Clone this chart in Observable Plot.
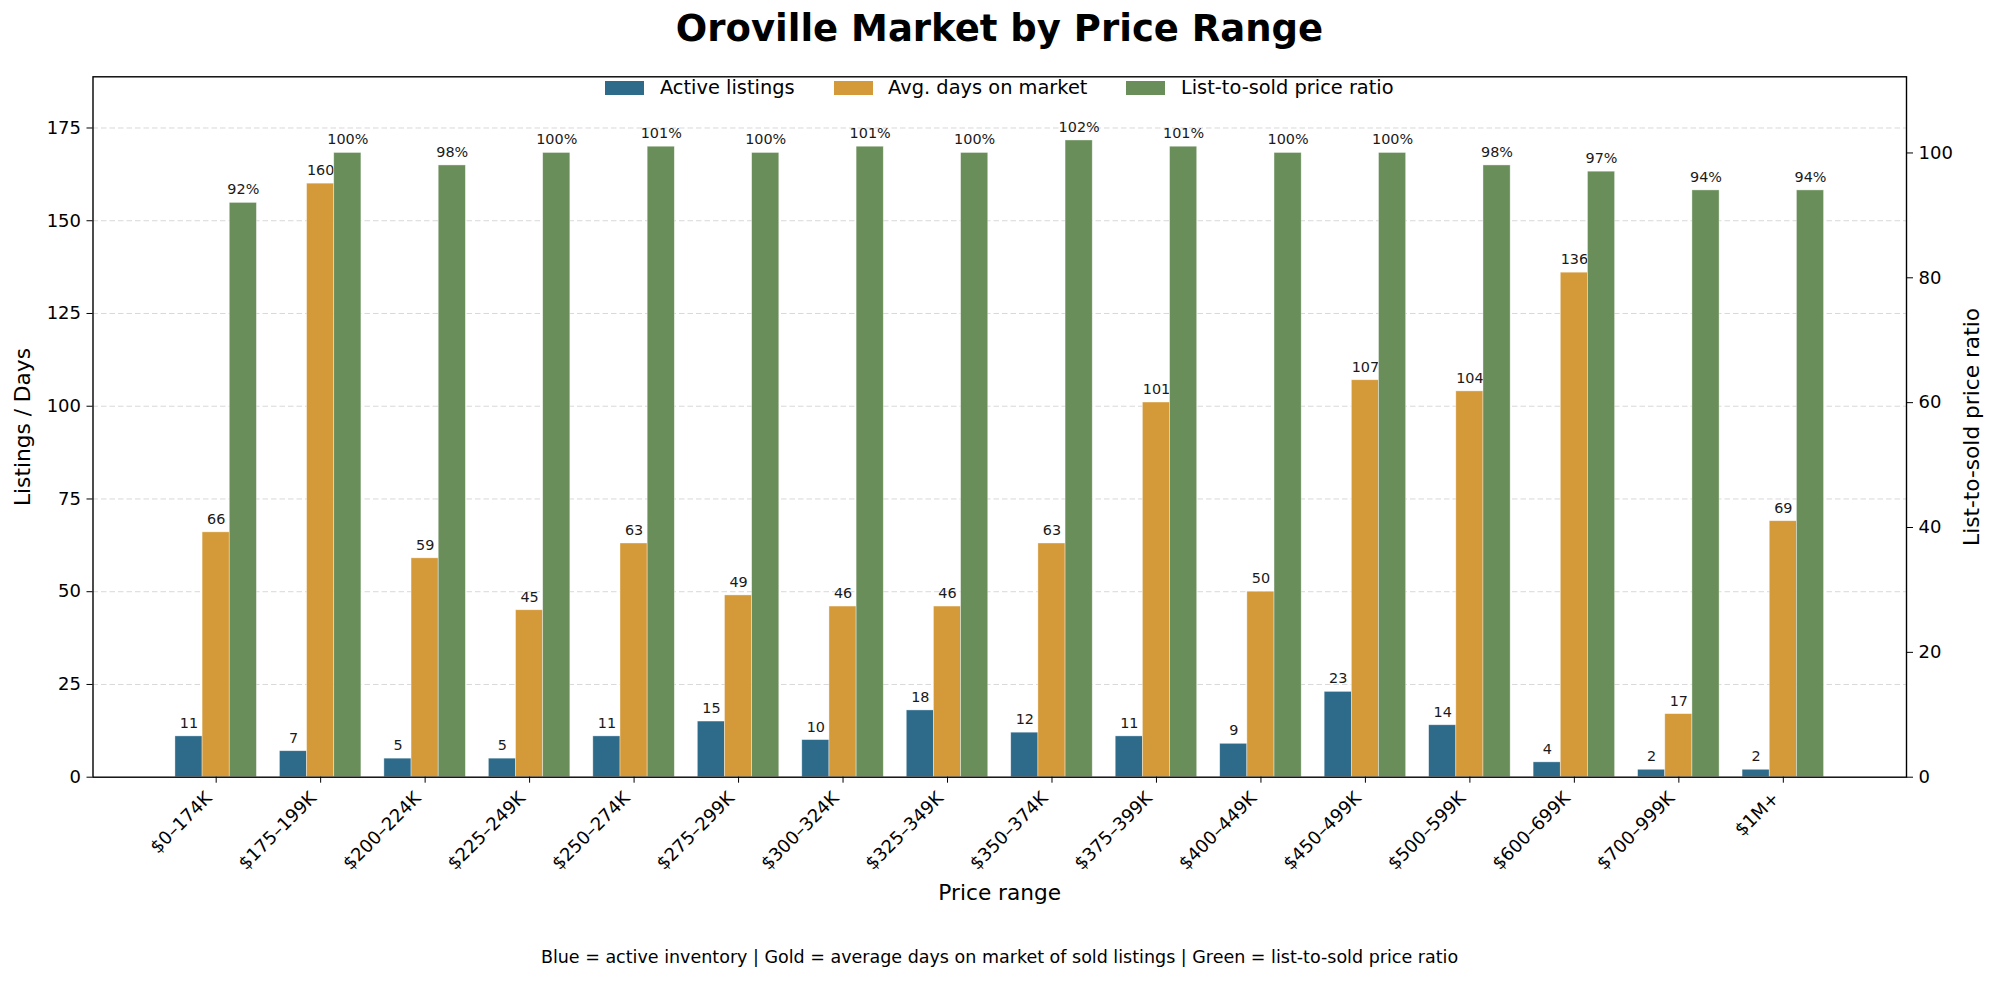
<!DOCTYPE html>
<html>
<head>
<meta charset="utf-8">
<script src="https://cdn.jsdelivr.net/npm/d3@7"></script>
<script src="https://cdn.jsdelivr.net/npm/@observablehq/plot@0.6"></script>
<style>
html, body { margin: 0; padding: 0; background: #fff; }
#wrap { position: relative; width: 1999px; height: 981px; overflow: hidden; font-family: "DejaVu Sans", sans-serif; color: #000; }
#wrap svg { position: absolute; left: 0; top: 0; }
.title { position: absolute; left: 0; width: 1999px; top: 10px; text-align: center; font-weight: bold; font-size: 37px; line-height: 37px; }
.legend { position: absolute; left: 0; width: 1999px; top: 77px; height: 22px; display: flex; justify-content: center; align-items: center; font-size: 19.4px; line-height: 22px; }
.legend .item { display: flex; align-items: center; margin: 0 19.5px; }
.legend .sw { width: 39px; height: 13.5px; margin-right: 15.5px; }
.caption { position: absolute; left: 0; width: 1999px; top: 947.5px; text-align: center; font-size: 17.5px; line-height: 18px; }
</style>
</head>
<body>
<div id="wrap"></div>
<script>
// ---- data ----
const categories = ["$0–174K", "$175–199K", "$200–224K", "$225–249K", "$250–274K", "$275–299K", "$300–324K", "$325–349K", "$350–374K", "$375–399K", "$400–449K", "$450–499K", "$500–599K", "$600–699K", "$700–999K", "$1M+"];
const activeListings = [11, 7, 5, 5, 11, 15, 10, 18, 12, 11, 9, 23, 14, 4, 2, 2];
const avgDaysOnMarket = [66, 160, 59, 45, 63, 49, 46, 46, 63, 101, 50, 107, 104, 136, 17, 69];
const listToSoldRatio = [92, 100, 98, 100, 101, 100, 101, 100, 102, 101, 100, 100, 98, 97, 94, 94];
const seriesNames = ["Active listings", "Avg. days on market", "List-to-sold price ratio"];
const leftTicks = [0, 25, 50, 75, 100, 125, 150, 175];
const rightTicks = [0, 20, 40, 60, 80, 100];
const titleText = "Oroville Market by Price Range";
const xLabel = "Price range";
const yLabelLeft = "Listings / Days";
const yLabelRight = "List-to-sold price ratio";
const captionText = "Blue = active inventory | Gold = average days on market of sold listings | Green = list-to-sold price ratio";

// ---- styling / layout ----
const colors = ["#2e6a8a", "#d49a3a", "#6a8e5a"];
const W = 1999, H = 981;
const mL = 92.5, mR = 93, mT = 76.3, mB = 204.3;
const barW = 0.26;
const xDomain = [-1.179, 16.179];
const font = '"DejaVu Sans", sans-serif';

const rows = (values) => categories.map((c, i) => ({i, category: c, value: values[i]}));
const activeRows = rows(activeListings);
const daysRows = rows(avgDaysOnMarket);
const ratioRows = rows(listToSoldRatio);
const catIndex = categories.map((c, i) => i);

const barOpts = (k, fill) => ({
  x1: d => d.i + (k - 1) * barW - barW / 2,
  x2: d => d.i + (k - 1) * barW + barW / 2,
  y1: 0, y2: "value", fill,
  stroke: "#ffffff", strokeWidth: 0.7, strokeOpacity: 0.55
});
const labelOpts = (k, fmt) => ({
  x: d => d.i + (k - 1) * barW, y: "value", text: fmt,
  textAnchor: "middle", lineAnchor: "bottom", dy: -8.6, fontSize: 14.4, fill: "#1a1a1a"
});

const common = {
  width: W, height: H, marginLeft: mL, marginRight: mR, marginTop: mT, marginBottom: mB,
  style: {fontFamily: font, background: "transparent", color: "#000", overflow: "visible"}
};

const plotA = Plot.plot({
  ...common,
  x: {domain: xDomain},
  y: {domain: [0, 188.8]},
  marks: [
    Plot.gridY(leftTicks.slice(1), {stroke: "#d8d8d8", strokeOpacity: 1, strokeWidth: 1, strokeDasharray: "5.5,3"}),
    Plot.rect(activeRows, barOpts(0, colors[0])),
    Plot.rect(daysRows, barOpts(1, colors[1])),
    Plot.text(activeRows, labelOpts(0, d => String(d.value))),
    Plot.text(daysRows, labelOpts(1, d => String(d.value))),
    Plot.axisY({ticks: leftTicks, tickSize: 6, tickPadding: 6, fontSize: 18, label: null}),
    Plot.axisX({ticks: catIndex, tickSize: 6, tickFormat: () => "", label: null}),
    Plot.text(catIndex, {x: i => i, text: i => categories[i], frameAnchor: "bottom", rotate: -45,
      textAnchor: "end", lineAnchor: "top", dx: -12.3, dy: 13, fontSize: 18, fill: "#000"}),
    Plot.text([yLabelLeft], {text: d => d, frameAnchor: "left", rotate: -90, textAnchor: "middle", lineAnchor: "middle", dx: -69.5, fontSize: 21.7, fill: "#000"}),
    Plot.text([xLabel], {text: d => d, frameAnchor: "bottom", textAnchor: "middle", lineAnchor: "middle", dy: 115.8, fontSize: 21.7, fill: "#000"})
  ]
});

const plotB = Plot.plot({
  ...common,
  x: {domain: xDomain, axis: null},
  y: {domain: [0, 112.2]},
  marks: [
    Plot.rect(ratioRows, barOpts(2, colors[2])),
    Plot.text(ratioRows, labelOpts(2, d => d.value + "%")),
    Plot.axisY({anchor: "right", ticks: rightTicks, tickSize: 6, tickPadding: 6, fontSize: 18, label: null}),
    Plot.text([yLabelRight], {text: d => d, frameAnchor: "right", rotate: -90, textAnchor: "middle", lineAnchor: "middle", dx: 66, fontSize: 21.7, fill: "#000"}),
    Plot.frame({stroke: "#000", strokeWidth: 1.4})
  ]
});

const wrap = document.getElementById("wrap");
wrap.appendChild(plotA);
wrap.appendChild(plotB);

const title = document.createElement("div");
title.className = "title";
title.textContent = titleText;
wrap.appendChild(title);

const legend = document.createElement("div");
legend.className = "legend";
seriesNames.forEach((name, k) => {
  const item = document.createElement("div");
  item.className = "item";
  const sw = document.createElement("span");
  sw.className = "sw";
  sw.style.background = colors[k];
  const t = document.createElement("span");
  t.textContent = name;
  item.appendChild(sw);
  item.appendChild(t);
  legend.appendChild(item);
});
wrap.appendChild(legend);

const caption = document.createElement("div");
caption.className = "caption";
caption.textContent = captionText;
wrap.appendChild(caption);
</script>
</body>
</html>
